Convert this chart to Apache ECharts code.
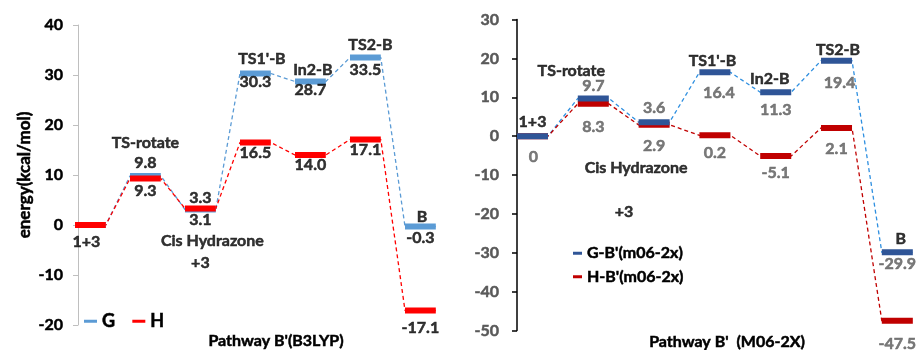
<!DOCTYPE html>
<html>
<head>
<meta charset="utf-8">
<script src="https://cdn.jsdelivr.net/npm/echarts@6/dist/echarts.min.js"></script>
<style>html,body{margin:0;padding:0;background:#fff;}#c{width:918px;height:350px;}</style>
</head>
<body>
<div id="c"></div>
<script>
// ---- data ----
const states = ['1+3', 'TS-rotate', 'Cis Hydrazone', "TS1'-B", 'In2-B', 'TS2-B', 'B'];
const extraNote = '+3';           // second line under "Cis Hydrazone"
const gB3LYP = [0, 9.8, 3.1, 30.3, 28.7, 33.5, -0.3];
const hB3LYP = [0, 9.3, 3.3, 16.5, 14.0, 17.1, -17.1];
const gM06 = [0, 9.7, 3.6, 16.4, 11.3, 19.4, -29.9];
const hM06 = [0, 8.3, 2.9, 0.2, -5.1, 2.1, -47.5];
const yTicksLeft = [-20, -10, 0, 10, 20, 30, 40];
const yTicksRight = [-50, -40, -30, -20, -10, 0, 10, 20, 30];
const legendLeft = ['G', 'H'];
const legendRight = ["G-B'(m06-2x)", "H-B'(m06-2x)"];
const titleLeft = "Pathway B'(B3LYP)";
const titleRight = "Pathway B'  (M06-2X)";
const yNameLeft = 'energy(kcal/mol)';

// ---- layout (not data) ----
const FONT = 'Lato';
const WL = 0.56, WR = 0.51;   // level width in category units
// label offsets [dx, dy] in px relative to level centre
const offGL = [null, [0, -13], [0, 10.5], [0, 8.5], [0, 8.5], [0, 12.5], [0, 11.5]];
const offHL = [null, [0, 12], [0, -10.5], [0, 10.5], [0, 10], [0, 10.5], [0, 17.5]];
const offNameL = [[-4, 17], [0, -33], [12, 31.5], [6.5, -14.5], [2.5, -11.5], [5, -12.5], [1.5, -9.5]];
const offNoteL = [0, 53.5];
const offGR = [null, [0, -13], [0, -14], [4, 20], [0, 18], [3, 22], [0, 11]];
const offHR = [[1, 21], [0, 23], [0, 21], [0, 17], [0, 17], [0, 21], [0, 23]];
const offNameR = [[0, -14], [-22, -28], [-18, 46], [-2.5, -12], [-6, -13], [1.5, -10.5], [3.5, -14]];
const offNoteR = [-30, 90];

function txt(color, size) {
  return { color: color, fontFamily: FONT, fontWeight: 'bold', fontSize: size || 16,
           textBorderColor: color, textBorderWidth: 0.5 };
}
function levelData(vals, w) {
  const d = [];
  vals.forEach((v, i) => { d.push([i, v], [i + w, v], [i + w, '-']); });
  return d;
}
function pathData(vals, w) {
  const d = [];
  vals.forEach((v, i) => { d.push([i, v], [i + w, v]); });
  return d;
}
function fmt(v) { return v === 0 ? '0' : v.toFixed(1); }
function valueLabels(vals, w, offs, color, gi) {
  const data = [];
  vals.forEach((v, i) => {
    if (!offs[i]) return;
    data.push({ value: [i + w / 2, v], label: { offset: offs[i], formatter: fmt(v) } });
  });
  return {
    type: 'scatter', xAxisIndex: gi, yAxisIndex: gi, symbolSize: 0, silent: true, z: 10,
    data: data,
    label: Object.assign({ show: true, position: 'inside' }, txt(color))
  };
}
function nameLabels(refVals, w, offs, noteOff, gi) {
  const data = states.map((s, i) => ({ value: [i + w / 2, refVals[i]], label: { offset: offs[i], formatter: s } }));
  data.push({ value: [2 + w / 2, refVals[2]], label: { offset: noteOff, formatter: extraNote } });
  return {
    type: 'scatter', xAxisIndex: gi, yAxisIndex: gi, symbolSize: 0, silent: true, z: 10,
    data: data,
    label: Object.assign({ show: true, position: 'inside' }, txt('#000'))
  };
}
function dashed(vals, w, color, gi) {
  return {
    type: 'line', xAxisIndex: gi, yAxisIndex: gi, data: pathData(vals, w), showSymbol: false, symbol: 'none',
    clip: false, silent: true, z: 2,
    lineStyle: { color: color, width: 1.3, type: [4, 3] }
  };
}
function levels(name, vals, w, color, gi, z) {
  return {
    name: name, type: 'line', xAxisIndex: gi, yAxisIndex: gi, data: levelData(vals, w), showSymbol: false,
    symbol: 'none', connectNulls: false, clip: false, silent: true, z: z, color: color,
    itemStyle: { color: color },
    lineStyle: { color: color, width: 6, cap: 'butt' }
  };
}

const chart = echarts.init(document.getElementById('c'), null, { renderer: 'canvas' });
chart.setOption({
  animation: false,
  backgroundColor: '#fff',
  title: [
    { text: titleLeft, left: 271, top: 328, textAlign: 'center', textStyle: txt('#000') },
    { text: titleRight, left: 722, top: 329, textAlign: 'center', textStyle: txt('#000') }
  ],
  legend: [
    { data: legendLeft, left: 84, top: 312, orient: 'horizontal', icon: 'rect', itemWidth: 13, itemHeight: 3, itemGap: 17, padding: 0,
      textStyle: txt('#000', 18) },
    { data: legendRight, left: 573, top: 245, orient: 'vertical', icon: 'rect', itemWidth: 9, itemHeight: 3, itemGap: 7, padding: 0,
      textStyle: txt('#000', 16) }
  ],
  grid: [
    { left: 78, top: 25, width: 366, height: 300 },
    { left: 516, top: 19.5, width: 402, height: 311 }
  ],
  xAxis: [
    { gridIndex: 0, type: 'value', min: 3 / 55, max: 3 / 55 + 366 / 55, show: false },
    { gridIndex: 1, type: 'value', min: -1 / 60.8, max: 6.595, show: false }
  ],
  yAxis: [
    { gridIndex: 0, type: 'value', min: yTicksLeft[0], max: yTicksLeft[yTicksLeft.length - 1], interval: 10,
      name: yNameLeft, nameLocation: 'middle', nameGap: 45, nameRotate: 90,
      nameTextStyle: txt('#000', 17),
      axisLine: { show: true, lineStyle: { color: '#BFBFBF', width: 1 } },
      axisTick: { show: true, inside: false, length: 5, lineStyle: { color: '#BFBFBF' } },
      axisLabel: Object.assign({ margin: 15 }, txt('#000')),
      splitLine: { show: false } },
    { gridIndex: 1, type: 'value', min: yTicksRight[0], max: yTicksRight[yTicksRight.length - 1], interval: 10,
      axisLine: { show: true, lineStyle: { color: '#000', width: 1.5 } },
      axisTick: { show: true, inside: false, length: 5, lineStyle: { color: '#000', width: 1.5 } },
      axisLabel: Object.assign({ margin: 17 }, txt('#595959')),
      splitLine: { show: false } }
  ],
  series: [
    dashed(gB3LYP, WL, '#5B9BD5', 0),
    dashed(hB3LYP, WL, '#FF0000', 0),
    levels(legendLeft[0], gB3LYP, WL, '#5B9BD5', 0, 3),
    levels(legendLeft[1], hB3LYP, WL, '#FF0000', 0, 4),
    valueLabels(gB3LYP, WL, offGL, '#000', 0),
    valueLabels(hB3LYP, WL, offHL, '#000', 0),
    nameLabels(gB3LYP, WL, offNameL, offNoteL, 0),

    dashed(gM06, WR, '#2E8FE0', 1),
    dashed(hM06, WR, '#C00000', 1),
    levels(legendRight[1], hM06, WR, '#C00000', 1, 3),
    levels(legendRight[0], gM06, WR, '#2F5597', 1, 4),
    valueLabels(gM06, WR, offGR, '#595959', 1),
    valueLabels(hM06, WR, offHR, '#595959', 1),
    nameLabels(gM06, WR, offNameR, offNoteR, 1)
  ]
});
</script>
</body>
</html>
